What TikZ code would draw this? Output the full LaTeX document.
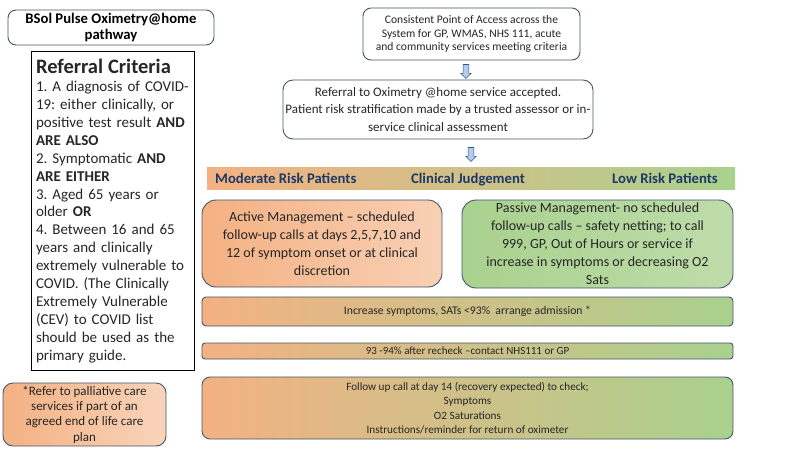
\documentclass[tikz,border=0pt]{standalone}
\usepackage{fontspec}
\setmainfont{Carlito}
\frenchspacing
\usetikzlibrary{shapes.arrows}
\definecolor{myo}{RGB}{244,177,131}
\definecolor{myg}{RGB}{169,209,142}
\definecolor{myline}{RGB}{68,84,106}
\definecolor{mynavy}{RGB}{31,56,100}
\definecolor{mytext}{RGB}{38,38,38}
\definecolor{myarrow}{RGB}{180,205,235}
\definecolor{myarrowline}{RGB}{47,85,151}

\begin{document}
\begin{tikzpicture}[x=1pt, y=-1pt,
  rbox/.style={draw=myline, rounded corners=8pt, line width=0.9pt, align=center, inner sep=2pt, text=mytext},
  bar/.style={rbox, left color=myo, right color=myg, rounded corners=4pt},
  downarrow/.style={single arrow, draw=myarrowline, fill=myarrow, line width=0.6pt, shape border rotate=270, minimum height=14pt, single arrow head extend=2.2pt, inner sep=2.6pt},
  bandtext/.style={font=\bfseries\fontsize{14.7}{16}\selectfont, text=mynavy, inner sep=0pt}]

\useasboundingbox (0,0) rectangle (800,450);

% left column
\node[rbox, text=black, font=\bfseries\fontsize{14.7}{16}\selectfont, minimum width=206pt, minimum height=35pt] (title) at (111,27.5) {BSol Pulse Oximetry@home\\pathway};
\node[draw=black, line width=0.9pt, align=left, inner sep=5pt, minimum width=163pt, minimum height=319pt, text width=153pt, font=\fontsize{15}{17.9}\selectfont, text=mytext] (criteria) at (112.5,211)
  {{\bfseries\fontsize{20.5}{22}\selectfont Referral Criteria}\\
   1. A diagnosis of COVID-\\
   19: either clinically, or\\
   positive test result \textbf{AND}\\
   \textbf{ARE ALSO}\\
   2. Symptomatic \textbf{AND}\\
   \textbf{ARE EITHER}\\
   3. Aged 65 years or\\
   older \textbf{OR}\\
   4. Between 16 and 65\\
   years and clinically\\
   extremely vulnerable to\\
   COVID. (The Clinically\\
   Extremely Vulnerable\\
   (CEV) to COVID list\\
   should be used as the\\
   primary guide.};
\node[rbox, rounded corners=10pt, left color=myo, right color=myo!55, font=\fontsize{13}{15.3}\selectfont, minimum width=163pt, minimum height=63pt] (palliative) at (84.5,414.5)
  {*Refer to palliative care\\services if part of an\\agreed end of life care\\plan};

% top of the pathway
\node[rbox, font=\fontsize{11.6}{13.5}\selectfont, minimum width=217pt, minimum height=52pt] (access) at (471.5,34)
  {Consistent Point of Access across the\\System for GP, WMAS, NHS 111, acute\\and community services meeting criteria};
\node[downarrow] (arr1) at (466,70) {};
\node[rbox, rounded corners=10pt, font=\fontsize{13}{17.5}\selectfont, minimum width=310pt, minimum height=59pt] (referral) at (438,109.5)
  {Referral to Oximetry @home service accepted.\\Patient risk stratification made by a trusted assessor or in-\\service clinical assessment};
\node[downarrow] (arr2) at (471,153) {};

% risk band
\shade[left color=myo, right color=myg] (207,167) rectangle (735,189);
\node[bandtext, anchor=base west] (moderate) at (215,183) {Moderate Risk Patients};
\node[bandtext, anchor=base] (judgement) at (468,183) {Clinical Judgement};
\node[bandtext, anchor=base east] (low) at (718,183) {Low Risk Patients};

% management
\node[rbox, rounded corners=14pt, left color=myo, right color=myo!60, font=\fontsize{14}{18}\selectfont, minimum width=240pt, minimum height=87pt] (active) at (322,243.5)
  {Active Management – scheduled\\follow-up calls at days 2,5,7,10 and\\12 of symptom onset or at clinical\\discretion};
\node[rbox, rounded corners=14pt, left color=myg, right color=myg!75, font=\fontsize{14}{18}\selectfont, minimum width=271pt, minimum height=88pt] (passive) at (597.5,244)
  {Passive Management- no scheduled\\follow-up calls – safety netting; to call\\999, GP, Out of Hours or service if\\increase in symptoms or decreasing O2\\Sats};

% escalation bars
\node[bar, font=\fontsize{11.7}{14}\selectfont, minimum width=531pt, minimum height=29pt] (increase) at (467.5,311.5)
  {Increase symptoms, SATs <93\%\ \ arrange admission *};
\node[bar, rounded corners=3pt, font=\fontsize{11}{14}\selectfont, minimum width=531pt, minimum height=16pt, inner sep=0pt] (recheck) at (467.5,351)
  {93 -94\% after recheck –contact NHS111 or GP};
\node[bar, rounded corners=8pt, font=\fontsize{11.2}{14.3}\selectfont, minimum width=531pt, minimum height=62pt] (followup) at (467.5,408)
  {Follow up call at day 14 (recovery expected) to check;\\Symptoms\\O2 Saturations\\Instructions/reminder for return of oximeter};
\end{tikzpicture}
\end{document}
